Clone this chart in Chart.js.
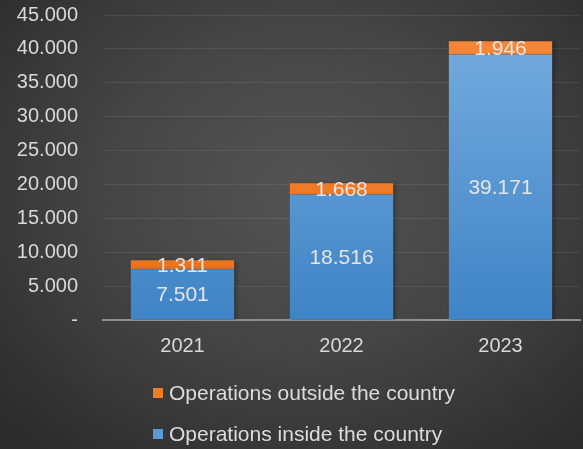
<!DOCTYPE html>
<html>
<head>
<meta charset="utf-8">
<script src="https://cdn.jsdelivr.net/npm/chart.js@4/dist/chart.umd.min.js"></script>
<style>
  html, body { margin: 0; padding: 0; }
  body {
    width: 583px; height: 449px; overflow: hidden;
    background: radial-gradient(ellipse 70% 75% at 52% 42%, #545454 0%, #444444 50%, #2c2c2c 100%);
    font-family: "Liberation Sans", Arial, sans-serif;
  }
  #wrap { position: relative; width: 583px; height: 449px; }
  #legend { position: absolute; left: 153px; top: 379px; color: #dcdcdc; font-size: 21px; }
  #legend .item { display: flex; align-items: center; height: 27px; margin-bottom: 14px; }
  #legend .box { width: 10px; height: 10px; margin-right: 6px; }
</style>
</head>
<body>
<div id="wrap">
  <canvas id="opsChart" width="583" height="449"></canvas>
  <div id="legend"></div>
</div>
<script>
const years = ["2021", "2022", "2023"];
const insideCountry = [7501, 18516, 39171];
const outsideCountry = [1311, 1668, 1946];
const yTicks = [0, 5000, 10000, 15000, 20000, 25000, 30000, 35000, 40000, 45000];

const seriesNames = ["Operations inside the country", "Operations outside the country"];
const seriesColors = ["#5b9bd5", "#f07c24"];

// 7501 -> "7.501"
function fmt(v) {
  return String(v).replace(/\B(?=(\d{3})+(?!\d))/g, ".");
}

function vGradient(ctx, top, bottom) {
  const { chart } = ctx;
  const area = chart.chartArea;
  if (!area) return top;
  const g = chart.ctx.createLinearGradient(0, area.top, 0, area.bottom);
  g.addColorStop(0, top);
  g.addColorStop(1, bottom);
  return g;
}

// value labels in the middle of each segment
const segmentLabels = {
  id: "segmentLabels",
  afterDatasetsDraw(chart) {
    const c = chart.ctx;
    c.save();
    c.font = "21px 'Liberation Sans', Arial, sans-serif";
    c.fillStyle = "#e4e4e4";
    c.textAlign = "center";
    c.textBaseline = "middle";
    chart.data.datasets.forEach((ds, i) => {
      chart.getDatasetMeta(i).data.forEach((bar, j) => {
        c.fillText(fmt(ds.data[j]), bar.x, (bar.y + bar.base) / 2 + 1);
      });
    });
    c.restore();
  }
};

// soft shadow behind the bars
const barShadow = {
  id: "barShadow",
  beforeDatasetsDraw(chart) {
    const c = chart.ctx;
    c.save();
    c.shadowColor = "rgba(0,0,0,0.35)";
    c.shadowBlur = 4;
    c.shadowOffsetX = 2;
    c.shadowOffsetY = 1;
  },
  afterDatasetsDraw(chart) {
    chart.ctx.restore();
  }
};

Chart.defaults.font.family = "'Liberation Sans', Arial, sans-serif";
Chart.defaults.font.size = 20;
Chart.defaults.color = "#d9d9d9";

new Chart(document.getElementById("opsChart"), {
  type: "bar",
  data: {
    labels: years,
    datasets: [
      {
        label: seriesNames[0],
        data: insideCountry,
        backgroundColor: (ctx) => vGradient(ctx, "#78aee0", "#3f84c6"),
        categoryPercentage: 1,
        barPercentage: 0.65
      },
      {
        label: seriesNames[1],
        data: outsideCountry,
        backgroundColor: (ctx) => vGradient(ctx, "#f7883a", "#e8701a"),
        categoryPercentage: 1,
        barPercentage: 0.65
      }
    ]
  },
  options: {
    responsive: false,
    animation: false,
    layout: { padding: { top: 15, right: 3, bottom: 93, left: 0 } },
    plugins: {
      legend: { display: false },
      tooltip: { enabled: false }
    },
    scales: {
      x: {
        stacked: true,
        grid: { display: false, drawTicks: false },
        border: { color: "#8f8f8f", width: 2 },
        ticks: { padding: 14, color: "#d9d9d9" },
        afterFit(scale) { scale.height = 36; }
      },
      y: {
        stacked: true,
        min: 0,
        max: 45000,
        afterBuildTicks(scale) { scale.ticks = yTicks.map(v => ({ value: v })); },
        ticks: {
          padding: 25,
          color: "#d9d9d9",
          callback: (v) => (v === 0 ? "-" : fmt(v))
        },
        grid: { color: "rgba(255,255,255,0.08)", lineWidth: 1, drawTicks: false },
        border: { display: false },
        afterFit(scale) {
          scale.width = 103;
          scale.paddingTop = 0;
          scale.paddingBottom = 0;
        }
      }
    }
  },
  plugins: [barShadow, segmentLabels]
});

// legend listed top segment first, as in the stack
const legend = document.getElementById("legend");
[1, 0].forEach((i) => {
  const item = document.createElement("div");
  item.className = "item";
  const box = document.createElement("span");
  box.className = "box";
  box.style.background = seriesColors[i];
  const txt = document.createElement("span");
  txt.textContent = seriesNames[i];
  item.appendChild(box);
  item.appendChild(txt);
  legend.appendChild(item);
});
</script>
</body>
</html>
